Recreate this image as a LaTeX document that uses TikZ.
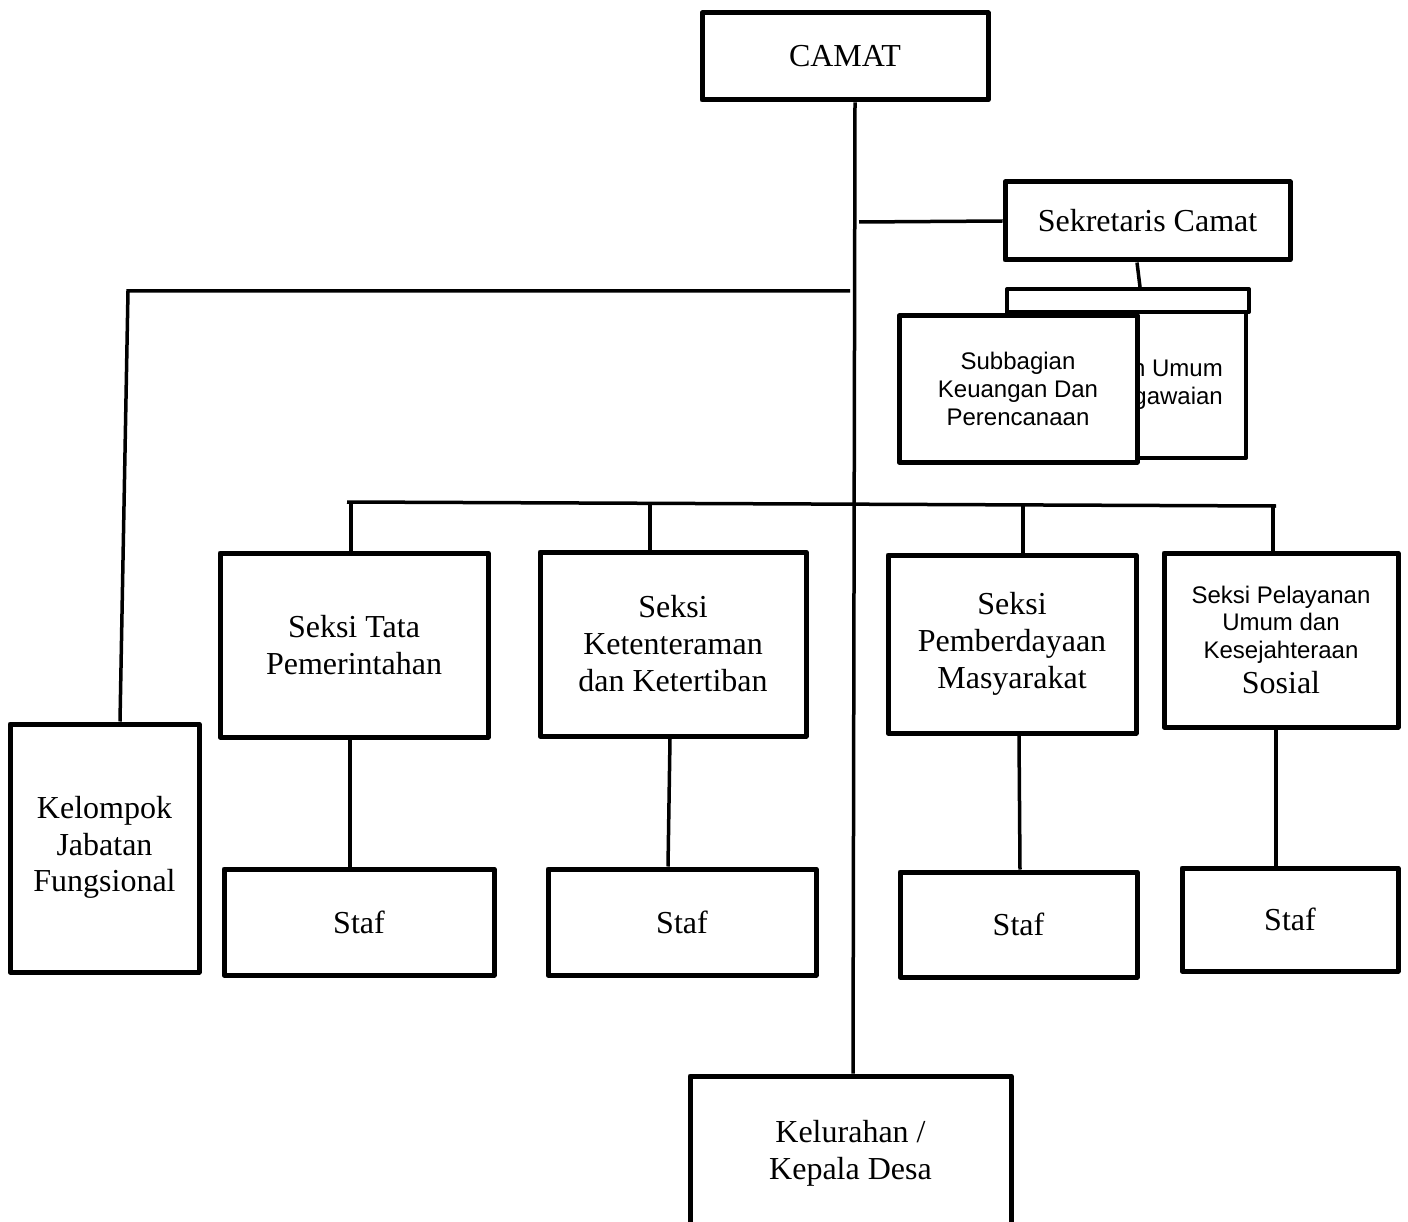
\documentclass[tikz,border=0pt]{standalone}
\usepackage{fontspec}
\setmainfont{Liberation Serif}
\newfontfamily\sansf{Liberation Sans}
\newcommand\serifbig{\rmfamily\fontsize{32}{37}\selectfont}
\newcommand\sansmid{\sansf\fontsize{24}{27.6}\selectfont}
\tikzset{
  box/.style={draw, line width=5pt, line join=round, fill=white, align=center, inner sep=0pt, font=\serifbig},
  sbox/.style={box, font=\sansmid},
  conn/.style={line width=3.5pt},
}
\begin{document}
\begin{tikzpicture}[x=1pt,y=-1pt]
\useasboundingbox (0,0) rectangle (1408,1222);
\clip (0,0) rectangle (1408,1222);
% boxes
\node[box, minimum width=286, minimum height=87] (camat) at (845,56.5) {\raisebox{-3pt}{CAMAT}};
\node[box, minimum width=285, minimum height=78] (sekcam) at (1147.5,221) {Sekretaris Camat};
\node[box, line width=4pt, minimum width=242, minimum height=23] (bar) at (1128,300.5) {};
\node[box, line width=4pt, minimum width=239, minimum height=146] (umum) at (1126.5,385) {};
\node[font=\sansmid, align=right, anchor=east, inner sep=0pt] (umumtxt) at (1223,385) {n Umum\\gawaian};
\node[sbox, minimum width=238, minimum height=146] (keu) at (1018,389) {Subbagian\\Keuangan Dan\\Perencanaan};
\node[box, minimum width=189, minimum height=248] (kjf) at (104.5,848) {\raisebox{-4pt}{\begin{tabular}{@{}c@{}}Kelompok\\[-0.5pt]Jabatan\\[-0.5pt]Fungsional\end{tabular}}};
\node[box, minimum width=268, minimum height=184] (s1) at (354,645) {Seksi Tata\\Pemerintahan};
\node[box, minimum width=266, minimum height=184] (s2) at (673,644) {Seksi\\Ketenteraman\\dan Ketertiban};
\node[box, minimum width=248, minimum height=178] (s3) at (1012,644) {Seksi\\Pemberdayaan\\Masyarakat};
\node[sbox, minimum width=234, minimum height=174] (s4) at (1281,640) {Seksi Pelayanan\\Umum dan\\Kesejahteraan\\[8pt]{\serifbig Sosial}};
\node[box, minimum width=270, minimum height=106] (st1) at (359,922) {Staf};
\node[box, minimum width=268, minimum height=106] (st2) at (682,922) {Staf};
\node[box, minimum width=237, minimum height=105] (st3) at (1018.5,924.5) {Staf};
\node[box, minimum width=216, minimum height=103] (st4) at (1290,919.5) {Staf};
\node[box, minimum width=321, minimum height=154] (kel) at (850.5,1153) {Kelurahan /\\Kepala Desa};
% junction coordinates
\coordinate (j1) at (859,222);
\coordinate (j2) at (850,291);
\coordinate (c2) at (128,291);
\coordinate (h1) at (347,502);
\coordinate (h2) at (1276,506);
\coordinate (b1) at (351,502);
\coordinate (b2) at (650,505);
\coordinate (b3) at (1023,505.5);
\coordinate (b4) at (1273,506);
% connectors
\draw[conn] ([xshift=10]camat.south) -- ([xshift=2.5]kel.north);
\draw[conn] (j1) -- (sekcam.west);
\draw[conn] ([xshift=-10.5]sekcam.south) -- ([xshift=12]bar.north);
\draw[conn] (j2) -- (c2) -- ([xshift=15.5]kjf.north);
\draw[conn] (h1) -- (h2);
\draw[conn] (b1) -- ([xshift=-3]s1.north);
\draw[conn] (b2) -- ([xshift=-23]s2.north);
\draw[conn] (b3) -- ([xshift=11]s3.north);
\draw[conn] (b4) -- ([xshift=-8]s4.north);
\draw[conn] ([xshift=-4]s1.south) -- ([xshift=-9]st1.north);
\draw[conn] ([xshift=-3]s2.south) -- ([xshift=-14]st2.north);
\draw[conn] ([xshift=7]s3.south) -- ([xshift=1.5]st3.north);
\draw[conn] ([xshift=-5]s4.south) -- ([xshift=-14]st4.north);
\end{tikzpicture}
\end{document}
